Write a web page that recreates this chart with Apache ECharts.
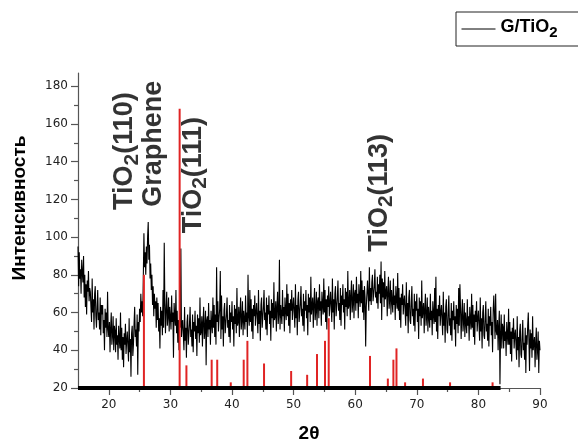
<!DOCTYPE html>
<html>
<head>
<meta charset="utf-8">
<script src="https://cdn.jsdelivr.net/npm/echarts@6/dist/echarts.min.js"></script>
<style>
html,body{margin:0;padding:0;background:#fff;}
#chart{width:578px;height:443px;}
</style>
</head>
<body>
<div id="chart"></div>
<script>
// XRD intensity of G/TiO2, 2θ from 15° to 90°, step 0.1° (one row per degree)
var angleStart = 15;
var angleStep = 0.1;
var intensity = [
  95, 74, 92, 78, 83, 70, 88, 81, 76, 90,
  68, 80, 63, 75, 59, 77, 71, 82, 66, 73,
  71, 63, 55, 78, 60, 67, 51, 70, 74, 58,
  52, 63, 72, 56, 60, 51, 68, 48, 64, 59,
  64, 49, 56, 40, 62, 52, 60, 47, 71, 51,
  47, 55, 39, 52, 60, 43, 48, 58, 40, 53,
  50, 39, 57, 43, 48, 35, 53, 46, 41, 60,
  40, 52, 35, 47, 31, 49, 43, 54, 38, 45,
  50, 42, 34, 57, 39, 46, 26, 49, 53, 37,
  43, 54, 63, 47, 51, 42, 59, 27, 55, 50,
  62, 55, 70, 60, 66, 58, 78, 102, 84, 92,
  80, 95, 86, 100, 108, 88, 96, 78, 86, 72,
  80, 64, 74, 58, 70, 62, 66, 52, 68, 56,
  65, 50, 57, 41, 63, 53, 61, 48, 72, 52,
  97, 65, 49, 62, 71, 53, 58, 68, 50, 63,
  62, 51, 69, 55, 60, 36, 65, 58, 53, 72,
  49, 61, 44, 56, 40, 58, 52, 94, 47, 54,
  56, 48, 40, 63, 45, 52, 36, 55, 59, 43,
  43, 54, 63, 47, 51, 42, 59, 39, 55, 50,
  61, 46, 53, 37, 59, 49, 57, 44, 68, 48,
  50, 58, 42, 55, 63, 46, 51, 61, 32, 56,
  58, 47, 65, 51, 56, 43, 61, 54, 49, 68,
  52, 64, 47, 59, 43, 84, 55, 66, 50, 57,
  62, 82, 46, 69, 51, 58, 42, 61, 65, 49,
  48, 59, 68, 52, 56, 47, 64, 44, 60, 55,
  66, 51, 58, 42, 64, 54, 62, 49, 73, 53,
  55, 63, 47, 60, 68, 51, 56, 66, 48, 61,
  62, 51, 69, 55, 60, 47, 80, 58, 53, 72,
  55, 67, 50, 62, 46, 64, 58, 69, 53, 60,
  65, 57, 49, 72, 54, 61, 45, 64, 68, 52,
  52, 63, 72, 56, 60, 51, 68, 48, 64, 59,
  69, 54, 61, 45, 67, 57, 65, 52, 76, 56,
  58, 66, 50, 63, 71, 54, 59, 88, 51, 64,
  65, 54, 72, 58, 63, 50, 68, 61, 56, 75,
  58, 70, 53, 65, 49, 67, 61, 72, 56, 63,
  68, 60, 52, 75, 57, 64, 48, 67, 71, 55,
  54, 65, 74, 58, 62, 53, 70, 50, 66, 61,
  72, 57, 64, 48, 70, 60, 68, 55, 79, 59,
  60, 68, 52, 65, 73, 56, 61, 71, 53, 66,
  68, 57, 75, 61, 66, 53, 71, 64, 59, 78,
  60, 72, 55, 67, 51, 69, 63, 74, 58, 65,
  71, 63, 55, 78, 60, 67, 51, 70, 74, 58,
  57, 68, 77, 61, 65, 56, 73, 53, 69, 64,
  75, 60, 67, 51, 73, 63, 71, 58, 82, 62,
  64, 72, 56, 69, 77, 60, 65, 75, 57, 70,
  72, 61, 79, 65, 70, 57, 75, 68, 63, 82,
  65, 77, 60, 72, 56, 74, 68, 42, 63, 70,
  77, 69, 61, 84, 66, 73, 64, 76, 80, 66,
  66, 74, 83, 68, 71, 65, 79, 62, 75, 70,
  80, 65, 87, 56, 78, 68, 76, 63, 82, 67,
  66, 74, 58, 71, 79, 62, 67, 77, 59, 72,
  71, 60, 78, 64, 69, 56, 74, 67, 62, 81,
  61, 73, 56, 68, 52, 70, 64, 75, 59, 66,
  69, 61, 53, 76, 58, 65, 49, 68, 72, 56,
  54, 65, 74, 58, 62, 53, 70, 50, 66, 61,
  70, 55, 62, 46, 68, 58, 66, 53, 77, 57,
  57, 65, 49, 62, 70, 53, 58, 68, 50, 63,
  63, 52, 70, 56, 61, 48, 66, 59, 54, 73,
  55, 79, 50, 62, 46, 64, 58, 69, 53, 60,
  64, 56, 48, 71, 53, 60, 44, 63, 67, 51,
  49, 60, 69, 53, 57, 48, 65, 45, 61, 56,
  66, 51, 58, 42, 64, 54, 62, 49, 73, 53,
  75, 62, 46, 59, 67, 50, 55, 65, 47, 60,
  60, 49, 67, 53, 58, 45, 63, 56, 51, 70,
  52, 64, 47, 59, 43, 61, 55, 66, 50, 57,
  61, 53, 45, 68, 50, 57, 41, 60, 64, 48,
  46, 57, 66, 50, 54, 45, 62, 42, 58, 53,
  63, 48, 55, 39, 61, 69, 59, 46, 70, 50,
  48, 56, 40, 53, 61, 22, 49, 59, 41, 54,
  52, 41, 59, 45, 50, 37, 55, 48, 43, 62,
  43, 55, 38, 50, 34, 52, 46, 57, 41, 48,
  51, 43, 35, 58, 40, 47, 31, 50, 54, 38,
  36, 47, 56, 40, 44, 35, 52, 28, 48, 43,
  53, 60, 45, 29, 51, 41, 49, 36, 58, 40,
  39, 47, 31, 44, 52, 35, 40, 50, 28, 45,
  40
];

// reference pattern sticks (red)
var refPos = [25.7, 31.5, 32.6, 36.7, 37.6, 39.8, 41.9, 42.5, 45.2, 49.6, 52.2, 53.8, 55.1, 55.7, 62.4, 65.3, 66.2, 66.7, 68.1, 71.0, 75.4, 82.3];
var refInt = [80, 168, 32, 35, 35, 23, 35, 45, 33, 29, 27, 38, 45, 57, 37, 25, 35, 41, 23, 25, 23, 23];

// thick pattern baseline
var baseX = [15, 83.6];
var baseY = [20, 20];

// peak annotations
var annX = [22.95, 27.4, 34.1, 64.3];
var annY = [114.4, 116.1, 102, 92.3];
var annText = ['{n|TiO}{s|2}{n|(110)}', '{n|Graphene}', '{n|TiO}{s|2}{n|(111)}', '{n|TiO}{s|2}{n|(113)}'];

var xTicksMajor = [20, 30, 40, 50, 60, 70, 80, 90];
var xTicksMinor = [25, 35, 45, 55, 65, 75, 85];
var yTicksMajor = [20, 40, 60, 80, 100, 120, 140, 160, 180];
var yTicksMinor = [30, 50, 70, 90, 110, 130, 150, 170];

var seriesName = 'G/TiO2';

var lineData = intensity.map(function (v, i) { return [+(angleStart + i * angleStep).toFixed(2), v]; });
var stickData = refPos.map(function (p, i) { return [p, refInt[i]]; });
var baseData = baseX.map(function (x, i) { return [x, baseY[i]]; });
var annData = annX.map(function (x, i) { return { value: [x, annY[i]], label: { formatter: annText[i] } }; });

var axisColor = '#555';
var labelFont = { fontFamily: 'DejaVu Sans', fontSize: 12, color: '#222' };

var chart = echarts.init(document.getElementById('chart'), null, { renderer: 'canvas' });
chart.setOption({
  animation: false,
  backgroundColor: '#fff',
  grid: { left: 78, right: 38, top: 73, bottom: 55, containLabel: false, outerBoundsMode: 'none' },
  legend: {
    data: [seriesName],
    left: 456, top: 12,
    itemWidth: 34, itemHeight: 14,
    padding: [6, 40, 6, 5],
    borderColor: '#222', borderWidth: 1, borderRadius: 0,
    itemStyle: { opacity: 0 },
    lineStyle: { color: '#000', width: 1 },
    formatter: function () { return '{a|G/TiO}{b|2}'; },
    textStyle: {
      rich: {
        a: { fontFamily: 'Liberation Sans', fontWeight: 'bold', fontSize: 18, lineHeight: 18, verticalAlign: 'top', color: '#000' },
        b: { fontFamily: 'Liberation Sans', fontWeight: 'bold', fontSize: 15, lineHeight: 22, verticalAlign: 'bottom', color: '#000' }
      }
    }
  },
  xAxis: [{
    type: 'value', min: 15, max: 90, interval: 5, position: 'bottom',
    axisLine: { show: true, onZero: false, lineStyle: { color: axisColor, width: 1.2 } },
    axisTick: { show: true, length: 7, customValues: xTicksMajor, lineStyle: { color: axisColor, width: 1.2 } },
    axisLabel: Object.assign({ margin: 11, customValues: xTicksMajor }, labelFont),
    splitLine: { show: false },
    name: '2θ', nameLocation: 'middle', nameGap: 36,
    nameTextStyle: { fontFamily: 'Liberation Sans', fontWeight: 'bold', fontSize: 19, color: '#000' }
  }, {
    type: 'value', min: 15, max: 90, interval: 5, position: 'bottom',
    axisLine: { show: false, onZero: false },
    axisTick: { show: true, length: 4, customValues: xTicksMinor, lineStyle: { color: axisColor, width: 1.2 } },
    axisLabel: { show: false },
    splitLine: { show: false }
  }],
  yAxis: [{
    type: 'value', min: 20, max: 187, interval: 20, position: 'left',
    axisLine: { show: true, onZero: false, lineStyle: { color: axisColor, width: 1.2 } },
    axisTick: { show: true, length: 7, customValues: yTicksMajor, lineStyle: { color: axisColor, width: 1.2 } },
    axisLabel: Object.assign({ margin: 10, customValues: yTicksMajor }, labelFont),
    splitLine: { show: false }
  }, {
    type: 'value', min: 20, max: 187, interval: 20, position: 'left',
    axisLine: { show: false, onZero: false },
    axisTick: { show: true, length: 4, customValues: yTicksMinor, lineStyle: { color: axisColor, width: 1.2 } },
    axisLabel: { show: false },
    splitLine: { show: false }
  }],
  graphic: [{
    type: 'text', x: 20, y: 208, rotation: Math.PI / 2,
    style: {
      text: 'Интенсивность', fontFamily: 'Liberation Sans', fontWeight: 'bold', fontSize: 19,
      fill: '#000', align: 'center', verticalAlign: 'middle'
    }
  }],
  series: [{
    name: seriesName, type: 'line', data: lineData,
    symbol: 'none', showSymbol: false,
    lineStyle: { color: '#000', width: 1.1 },
    itemStyle: { color: '#000' },
    z: 2
  }, {
    name: 'ref', type: 'custom', data: stickData, z: 3,
    renderItem: function (params, api) {
      var x = api.value(0), h = api.value(1);
      var p0 = api.coord([x, 20]);
      var p1 = api.coord([x, h]);
      return { type: 'line', shape: { x1: p0[0], y1: p0[1], x2: p1[0], y2: p1[1] }, style: { stroke: '#e02424', lineWidth: 2 } };
    }
  }, {
    name: 'base', type: 'line', data: baseData, symbol: 'none', z: 4,
    lineStyle: { color: '#000', width: 4 }
  }, {
    name: 'ann', type: 'scatter', data: annData, symbolSize: 1, silent: true, z: 5,
    itemStyle: { color: 'rgba(0,0,0,0)' },
    label: {
      show: true, position: 'inside', rotate: 90, align: 'left', verticalAlign: 'middle',
      rich: {
        n: { fontFamily: 'Liberation Sans', fontWeight: 'bold', fontSize: 27, lineHeight: 28, verticalAlign: 'top', color: '#000' },
        s: { fontFamily: 'Liberation Sans', fontWeight: 'bold', fontSize: 21, lineHeight: 31, verticalAlign: 'bottom', color: '#000' }
      }
    }
  }]
});
</script>
</body>
</html>
